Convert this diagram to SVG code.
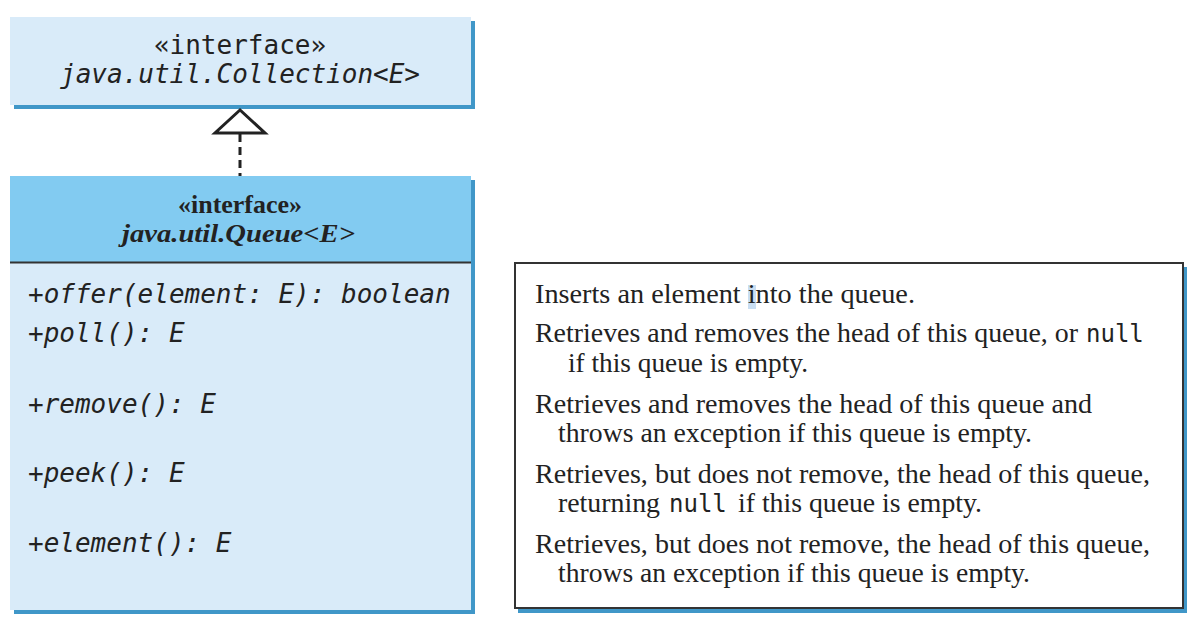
<svg xmlns="http://www.w3.org/2000/svg" width="1204" height="628" viewBox="0 0 1204 628">
<style>
.shadow{fill:#4097c8}
.light{fill:#d9ebf9}
.dark{fill:#82cbf1}
.mono{font-family:"DejaVu Sans Mono","Liberation Mono",monospace;font-size:26px;fill:#222}
.it{font-style:italic}
.code{font-family:"DejaVu Sans Mono","Liberation Mono",monospace;font-size:24px;fill:#222}
.serif{font-family:"Liberation Serif","Times New Roman",serif;font-size:28px;fill:#222}
.hdr{font-family:"Liberation Serif","Times New Roman",serif;font-size:25px;font-weight:bold;fill:#222}
</style>
<rect width="1204" height="628" fill="#ffffff"/>
<g id="collection">
<rect class="shadow" x="14" y="21" width="461" height="88"/>
<rect class="light" x="10" y="17" width="461" height="88"/>
<text class="mono" x="240" y="54" text-anchor="middle">«interface»</text>
<text class="mono it" x="240" y="83" text-anchor="middle">java.util.Collection&lt;E&gt;</text>
</g>
<g id="queue">
<rect class="shadow" x="14" y="180" width="461" height="434"/>
<rect class="light" x="10" y="176" width="461" height="434"/>
<rect class="dark" x="10" y="176" width="461" height="86"/>
<line x1="10" y1="262.5" x2="471" y2="262.5" stroke="#333" stroke-width="2"/>
<text class="hdr" x="178" y="213" textLength="124" lengthAdjust="spacingAndGlyphs">«interface»</text>
<text class="hdr it" x="122" y="242" textLength="233" lengthAdjust="spacingAndGlyphs">java.util.Queue&lt;E&gt;</text>
<text class="mono it" x="28" y="303">+offer(element: E): boolean</text>
<text class="mono it" x="28" y="342">+poll(): E</text>
<text class="mono it" x="28" y="413">+remove(): E</text>
<text class="mono it" x="28" y="482">+peek(): E</text>
<text class="mono it" x="28" y="552">+element(): E</text>
</g>
<g id="descriptions">
<rect class="shadow" x="518" y="267" width="669" height="346"/>
<rect x="515" y="263" width="668" height="345" fill="#ffffff" stroke="#333" stroke-width="2"/>
<rect x="748" y="285" width="8" height="24" fill="#c9def2"/>
<text class="serif" x="535" y="303" textLength="380" lengthAdjust="spacingAndGlyphs">Inserts an element into the queue.</text>
<text class="serif" x="535" y="342" textLength="543" lengthAdjust="spacingAndGlyphs">Retrieves and removes the head of this queue, or</text>
<text class="code" x="1086" y="342">null</text>
<text class="serif" x="568" y="372" textLength="240" lengthAdjust="spacingAndGlyphs">if this queue is empty.</text>
<text class="serif" x="535" y="413" textLength="557" lengthAdjust="spacingAndGlyphs">Retrieves and removes the head of this queue and</text>
<text class="serif" x="558" y="442" textLength="474" lengthAdjust="spacingAndGlyphs">throws an exception if this queue is empty.</text>
<text class="serif" x="535" y="483" textLength="615" lengthAdjust="spacingAndGlyphs">Retrieves, but does not remove, the head of this queue,</text>
<text class="serif" x="558" y="512" textLength="102" lengthAdjust="spacingAndGlyphs">returning</text>
<text class="code" x="669" y="512">null</text>
<text class="serif" x="738" y="512" textLength="244" lengthAdjust="spacingAndGlyphs">if this queue is empty.</text>
<text class="serif" x="535" y="553" textLength="615" lengthAdjust="spacingAndGlyphs">Retrieves, but does not remove, the head of this queue,</text>
<text class="serif" x="558" y="582" textLength="472" lengthAdjust="spacingAndGlyphs">throws an exception if this queue is empty.</text>
</g>
<g id="connectors">
<line x1="240" y1="134" x2="240" y2="176" stroke="#222" stroke-width="3" stroke-dasharray="8,5"/>
<polygon points="240,110 215,133 265,133" fill="#ffffff" stroke="#222" stroke-width="3" stroke-linejoin="miter"/>
</g>
</svg>
